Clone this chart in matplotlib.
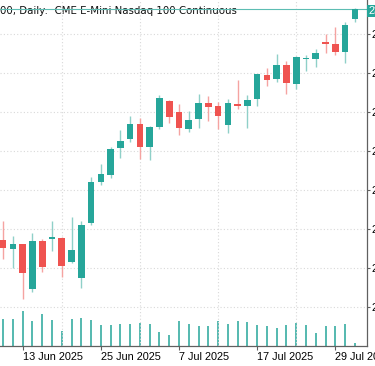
import numpy as np
import matplotlib
matplotlib.use("Agg")
import matplotlib.pyplot as plt
import matplotlib.transforms as mtransforms

# =========================================================
# Data (daily OHLC + tick volume)
# =========================================================
dates = ["2025-06-11", "2025-06-12", "2025-06-13", "2025-06-16", "2025-06-17",
         "2025-06-18", "2025-06-19", "2025-06-20", "2025-06-23", "2025-06-24",
         "2025-06-25", "2025-06-26", "2025-06-27", "2025-06-30", "2025-07-01",
         "2025-07-02", "2025-07-03", "2025-07-04", "2025-07-07", "2025-07-08",
         "2025-07-09", "2025-07-10", "2025-07-11", "2025-07-14", "2025-07-15",
         "2025-07-16", "2025-07-17", "2025-07-18", "2025-07-21", "2025-07-22",
         "2025-07-23", "2025-07-24", "2025-07-25", "2025-07-28", "2025-07-29",
         "2025-07-30", "2025-07-31"]

opens = [22115, 22046, 22082, 21736, 22110, 22125, 22128, 21946, 21825, 22244,
         22564, 22615, 22821, 22890, 23005, 22828, 22987, 23186, 23102, 22972,
         23044, 23173, 23144, 23000, 23163, 23146, 23198, 23382, 23354, 23459,
         23313, 23508, 23510, 23636, 23621, 23564, 23813]
highs = [22262, 22148, 22088, 22167, 22120, 22262, 22135, 22295, 22262, 22602,
         22700, 22833, 22962, 23069, 23051, 22992, 23231, 23194, 23162, 23108,
         23238, 23221, 23179, 23198, 23346, 23227, 23396, 23441, 23546, 23492,
         23530, 23538, 23582, 23700, 23756, 23795, 23898]
lows = [21967, 21898, 21662, 21718, 21867, 22033, 21833, 21936, 21748, 22231,
        22536, 22590, 22744, 22871, 22736, 22728, 22967, 23013, 22923, 22948,
        22979, 23031, 22967, 22941, 23123, 22975, 23146, 23300, 23328, 23236,
        23275, 23418, 23448, 23552, 23538, 23479, 23795]
closes = [22056, 22082, 21859, 22108, 21910, 22141, 21915, 22038, 22233, 22562,
          22621, 22815, 22879, 23008, 22828, 22987, 23205, 23064, 22977, 23038,
          23172, 23141, 23073, 23167, 23148, 23192, 23392, 23346, 23464, 23321,
          23525, 23515, 23552, 23623, 23564, 23769, 23890]
volumes = [267000, 267000, 353000, 253000, 317000, 260000, 153000, 267000,
           280000, 260000, 210000, 210000, 217000, 217000, 230000, 220000,
           140000, 107000, 250000, 223000, 203000, 203000, 250000, 217000,
           253000, 243000, 210000, 200000, 180000, 210000, 233000, 210000,
           130000, 200000, 200000, 217000, 33000]

price_ticks = [21600, 21900, 22200, 22500, 22800, 23100, 23400, 23700]
label_every = 8
grid_every = 4
first_label = 2

title = "00, Daily:  CME E-Mini Nasdaq 100 Continuous"

# =========================================================
# Style
# =========================================================
UP = "#26a69a"
DOWN = "#ef5350"
UP_WICK = "#8fd0c8"
DOWN_WICK = "#f5a3a1"
GRID = "#d9d9d9"
AXIS = "#606060"
TICK_FONT = dict(fontsize=7.8, family="Liberation Sans")

o = np.array(opens, float)
h = np.array(highs, float)
l = np.array(lows, float)
c = np.array(closes, float)
x = np.arange(len(dates))
up = c >= o

# =========================================================
# Plot
# =========================================================
fig = plt.figure(figsize=(3.75, 3.66), dpi=100)
ax = fig.add_axes([0.0, 20 / 366, 366.5 / 375, 346 / 366])
ax2 = ax.twinx()
ax.set_zorder(2)
ax.patch.set_visible(False)

# volume (tick volume, bottom of the pane)
ax2.vlines(x, 0, volumes, colors=UP, linewidth=1.1)
ax2.set_ylim(0, 3.46e6)
ax2.set_yticks([])
for s in ax2.spines.values():
    s.set_visible(False)

# candles
ax.vlines(x, l, h, colors=np.where(up, UP_WICK, DOWN_WICK), linewidth=1.0, zorder=2)
ax.bar(x, np.maximum(np.abs(c - o), 6), bottom=np.minimum(o, c), width=0.68,
       color=np.where(up, UP, DOWN), linewidth=0, zorder=3)

# current price line + tag
ax.axhline(c[-1], color="#5dbdb3", linewidth=0.8, zorder=1)
trans = mtransforms.blended_transform_factory(ax.transAxes, ax.transData)
ax.text(1.006, c[-1] - 12, f"{c[-1]:.2f}", transform=trans, ha="left", va="center",
        color="white", clip_on=False,
        bbox=dict(boxstyle="square,pad=0.12", fc=UP, ec="none"), **TICK_FONT)

ax.set_xlim(-0.32, 37.19)
ax.set_ylim(21300, 23961.5)

# grid
ax.set_xticks(x[first_label::grid_every], minor=True)
ax.grid(True, which="minor", axis="x", color=GRID, linestyle=(0, (1, 2)), linewidth=0.8)
ax.grid(True, which="major", axis="y", color=GRID, linestyle=(0, (1, 2)), linewidth=0.8)
ax.set_axisbelow(True)
ax.tick_params(axis="x", which="minor", length=0)

# x labels
lab_idx = x[first_label::label_every]
lab_txt = []
for k in lab_idx:
    y_, m_, d_ = dates[k].split("-")
    mon = {"06": "Jun", "07": "Jul"}[m_]
    lab_txt.append(f"{int(d_)} {mon} {y_}")
ax.set_xticks(lab_idx)
ax.set_xticklabels(lab_txt, **TICK_FONT)
for t in ax.get_xticklabels():
    t.set_horizontalalignment("left")
ax.tick_params(axis="x", which="major", length=3, width=0.8, color=AXIS, pad=1.0)

# y labels on the right
ax.yaxis.tick_right()
ax.set_yticks(price_ticks)
ax.set_yticklabels([f"{v:.2f}" for v in price_ticks], **TICK_FONT)
ax.tick_params(axis="y", length=2.5, width=0.8, color=AXIS, pad=1)

for side in ["left", "top"]:
    ax.spines[side].set_visible(False)
for side in ["right", "bottom"]:
    ax.spines[side].set_color(AXIS)
    ax.spines[side].set_linewidth(0.9)

fig.text(0.0, 1 - 13.5 / 366, title, ha="left", va="baseline", fontsize=7.4,
         color="#111111", zorder=0)

fig.savefig("out.png", dpi=100)
